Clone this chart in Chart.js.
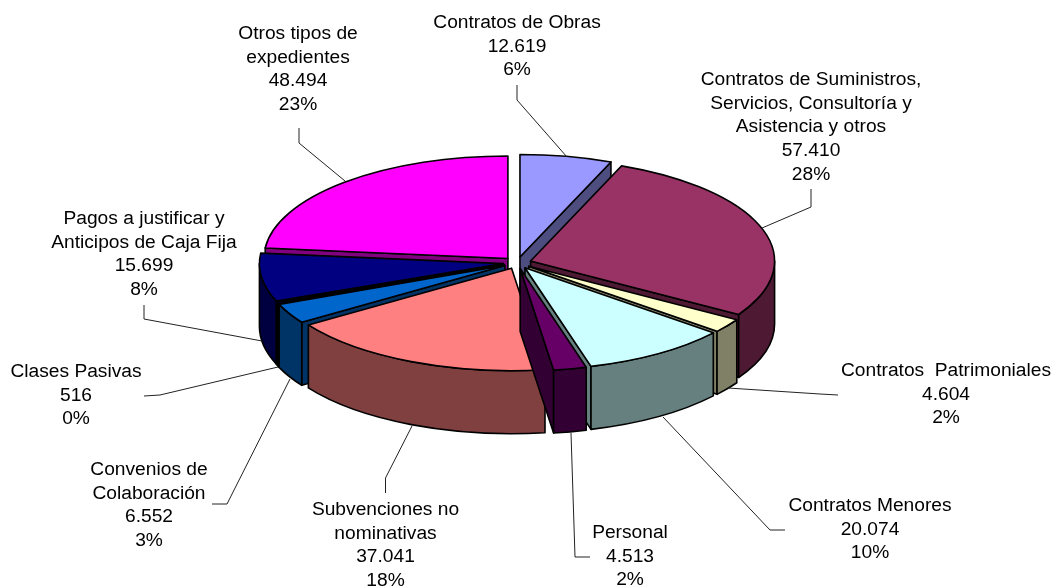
<!DOCTYPE html>
<html>
<head>
<meta charset="utf-8">
<script src="https://cdn.jsdelivr.net/npm/chart.js@4"></script>
<style>html,body{margin:0;padding:0;background:#fff}canvas{display:block}</style>
</head>
<body>
<canvas id="c" width="1054" height="588"></canvas>
<script>
const categories = ["Contratos de Obras","Contratos de Suministros, Servicios, Consultoría y Asistencia y otros","Contratos  Patrimoniales","Contratos Menores","Personal","Subvenciones no nominativas","Convenios de Colaboración","Clases Pasivas","Pagos a justificar y Anticipos de Caja Fija","Otros tipos de expedientes"];
const values = [12619,57410,4604,20074,4513,37041,6552,516,15699,48494];
const topColors = ["#9999FF","#993366","#FFFFCC","#CCFFFF","#660066","#FF8080","#0066CC","#000080","#000080","#FF00FF"];
const sideColors = ["#4D4D80","#4D1933","#808066","#668080","#330033","#804040","#003366","#000040","#000040","#800080"];
const labelLines = [
  ["Contratos de Obras"],
  ["Contratos de Suministros,","Servicios, Consultoría y","Asistencia y otros"],
  ["Contratos  Patrimoniales"],
  ["Contratos Menores"],
  ["Personal"],
  ["Subvenciones no","nominativas"],
  ["Convenios de","Colaboración"],
  ["Clases Pasivas"],
  ["Pagos a justificar y","Anticipos de Caja Fija"],
  ["Otros tipos de","expedientes"]
];
// layout of the annotations
const labelAnchors = [[517,23],[811,80],[946,371],[870,506],[630,533],[385.5,510],[149,470],[76,372],[144,219],[298,34]];
const leaders = [
  [[517,85],[517,100],[567,157]],
  [[811,189],[811,207],[762,228]],
  [[838,395],[820,394],[728,388]],
  [[785,530],[770,530],[663,417]],
  [[590,557],[575,557],[571,433]],
  [[385.5,493],[385.5,478],[412,426]],
  [[212,504],[227,504],[290,379]],
  [[144,396],[160,395],[278,367]],
  [[144,305],[144,319],[262,341]],
  [[299,128],[299,143],[345,181]]
];
const view = {cx:517.3, cy:262.8, squash:0.42, explode:14, depth:63, radius:244};
const font = {size:19.2, lineHeight:23.6};

const total = values.reduce((a,b)=>a+b,0);
const fmt = v => String(v).replace(/\B(?=(\d{3})+$)/g,".");

const pie3d = {
  id:"pie3d",
  beforeDatasetDraw(chart){
    const ctx = chart.ctx, arcs = chart.getDatasetMeta(0).data;
    const order = arcs.map((a,i)=>i).sort((p,q)=>{
      const m=a=>Math.sin((a.startAngle+a.endAngle)/2);
      return m(arcs[p])-m(arcs[q]);
    });
    order.forEach(i=>{
      const a = arcs[i], mid=(a.startAngle+a.endAngle)/2;
      const R=a.outerRadius, s=a.startAngle, e=a.endAngle;
      const place=(dy)=>{
        ctx.setTransform(1,0,0,1,0,0);
        ctx.translate(view.cx,view.cy+dy);
        ctx.scale(1,view.squash);
        ctx.translate(Math.cos(mid)*view.explode,Math.sin(mid)*view.explode);
      };
      const unplace=()=>ctx.setTransform(1,0,0,1,0,0);
      const pt=(ang,r,dy)=>{
        const ox=Math.cos(mid)*view.explode, oy=Math.sin(mid)*view.explode;
        return [view.cx+ox+Math.cos(ang)*r, view.cy+dy+view.squash*(oy+Math.sin(ang)*r)];
      };
      ctx.save();
      ctx.lineWidth=1.6; ctx.lineJoin="round"; ctx.strokeStyle="#000"; ctx.fillStyle=sideColors[i];
      const face=(ang)=>{
        const p0=pt(0,0,0),p1=pt(ang,R,0),p2=pt(ang,R,view.depth),p3=pt(0,0,view.depth);
        ctx.beginPath();ctx.moveTo(p0[0],p0[1]);ctx.lineTo(p1[0],p1[1]);ctx.lineTo(p2[0],p2[1]);ctx.lineTo(p3[0],p3[1]);ctx.closePath();
        ctx.fill();ctx.stroke();
      };
      if(-Math.cos(s)>0) face(s);
      if(Math.cos(e)>0) face(e);
      // outer wall: only the part of the rim that faces the viewer
      const norm=x=>{const t=2*Math.PI;return ((x%t)+t)%t;};
      let w0=norm(s), w1=w0+(e-s);
      const ranges=[[Math.max(w0,0),Math.min(w1,Math.PI)],[Math.max(w0,2*Math.PI),Math.min(w1,3*Math.PI)]];
      ranges.forEach(([r0,r1])=>{
        if(r1<=r0) return;
        place(0);ctx.beginPath();ctx.arc(0,0,R,r0,r1);unplace();
        place(view.depth);ctx.arc(0,0,R,r1,r0,true);unplace();
        ctx.closePath();ctx.fill();ctx.stroke();
      });
      // top surface, by the library's own arc element
      ctx.setTransform(1,0,0,1,0,0);
      ctx.translate(view.cx,view.cy);
      ctx.scale(1,view.squash);
      ctx.translate(Math.cos(mid)*view.explode,Math.sin(mid)*view.explode);
      ctx.translate(-a.x,-a.y);
      a.draw(ctx);
      // outline in screen space
      place(0);ctx.beginPath();ctx.moveTo(0,0);ctx.arc(0,0,R,s,e);ctx.closePath();unplace();
      ctx.stroke();
      ctx.restore();
    });
    return false;
  },
  afterDatasetsDraw(chart){
    const ctx=chart.ctx;
    ctx.save();
    ctx.strokeStyle="#222";ctx.lineWidth=1;
    leaders.forEach(l=>{
      ctx.beginPath();
      l.forEach((p,i)=>i?ctx.lineTo(p[0],p[1]):ctx.moveTo(p[0],p[1]));
      ctx.stroke();
    });
    ctx.fillStyle="#000";ctx.textAlign="center";ctx.textBaseline="middle";
    ctx.font=font.size+'px "Liberation Sans"';
    categories.forEach((c,i)=>{
      const lines=[...labelLines[i],fmt(values[i]),Math.round(values[i]/total*100)+"%"];
      lines.forEach((t,j)=>ctx.fillText(t,labelAnchors[i][0],labelAnchors[i][1]+j*font.lineHeight));
    });
    ctx.restore();
  }
};

new Chart(document.getElementById("c"),{
  type:"pie",
  data:{labels:categories,datasets:[{data:values,backgroundColor:topColors,borderWidth:0}]},
  options:{
    responsive:false,animation:false,
    radius:view.radius,
    layout:{padding:0},
    plugins:{legend:{display:false},tooltip:{enabled:false}},
    events:[]
  },
  plugins:[pie3d]
});
</script>
</body>
</html>
